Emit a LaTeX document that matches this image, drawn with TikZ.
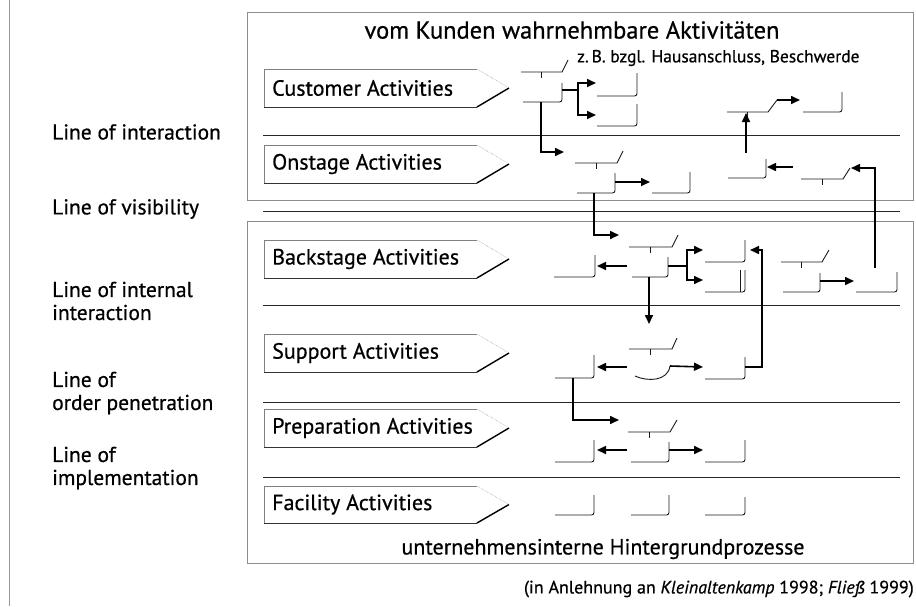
\documentclass[tikz,border=0pt]{standalone}
\usepackage{fontspec}
\setmainfont{PT Sans}[FakeBold=0.6]
\usetikzlibrary{arrows.meta}
\newcommand\lanebox[4]{% name, top, bottom, text
  \pgfmathsetmacro\lanemid{(#2+#3)/2}
  \draw[black!50,line width=0.6pt] (477,#2) -- (264,#2) -- (264,#3);
  \draw[black!80,line width=0.8pt] (264,#3) -- (477,#3);
  \draw[black,line width=1.4pt] (477,#3) -- (509,\lanemid);
  \draw[black!45,line width=0.5pt,densely dotted] (477,#2) -- (509,\lanemid);
  \node[lanetext] (#1) at (272,\lanemid) {#4};
}
\newcommand\pbox[5]{% name, x1, x2, ytop, ybot
  \draw[boxline] (#2,#5) -- (#3,#5) -- (#3,#4);
  \coordinate (#1) at (#3,#5);
}
\newcommand\pdec[6]{% name, x1, x2, yb, x3, yt
  \draw[boxline,rounded corners=0pt] (#2,#4) -- (#3,#4) -- (#5,#6);
  \draw[boxline] ({(#2+#3)/2},#4) -- ++(0,6);
  \coordinate (#1) at (#3,#4);
}
\begin{document}
\begin{tikzpicture}[x=1pt,y=-1pt,
  frame/.style={draw=black!45,line width=0.6pt},
  laneline/.style={draw=black!85,line width=0.9pt},
  boxline/.style={draw=black!90,line width=0.9pt,rounded corners=2.5pt},
  conn/.style={draw=black,line width=1.6pt,-{Triangle[length=9pt,width=8pt]}},
  plain/.style={draw=black,line width=1.6pt},
  lanetext/.style={anchor=west,font=\fontsize{22}{24}\selectfont,inner sep=0pt},
  sidetext/.style={anchor=west,font=\fontsize{21.5}{23}\selectfont,inner sep=0pt,align=left},
]
\useasboundingbox (0,0) rectangle (916,606);
% frames
\draw[black!40,line width=0.5pt] (9,0) -- (9,606);
\draw[frame] (247,12) rectangle (913,200);
\draw[frame] (247,221) rectangle (913,563);
% lane lines
\foreach \yy in {135,211,305,402,477} \draw[laneline] (263,\yy) -- (900,\yy);
% titles
\node[font=\fontsize{24.5}{28}\selectfont,inner sep=0pt] (title) at (572,30) {vom Kunden wahrnehmbare Aktivitäten};
\node[anchor=west,font=\fontsize{17.5}{19}\selectfont,inner sep=0pt] (example) at (577,58) {z.\,B. bzgl. Hausanschluss, Beschwerde};
\node[font=\fontsize{22}{26}\selectfont,inner sep=0pt] (bottomtitle) at (603,549) {unternehmensinterne Hintergrundprozesse};
\node[anchor=east,font=\fontsize{18}{20}\selectfont,inner sep=0pt] (cite) at (914,589) {(in Anlehnung an \textit{Kleinaltenkamp} 1998; \textit{Fließ} 1999)};
% side labels
\node[sidetext] (l1) at (52,132) {Line of interaction};
\node[sidetext] (l2) at (52,209) {Line of visibility};
\node[sidetext] (l3) at (52,301) {Line of internal\\interaction};
\node[sidetext] (l4) at (52,393) {Line of\\order penetration};
\node[sidetext] (l5) at (52,468) {Line of\\implementation};
% lane labels
\lanebox{cust}{69}{107}{Customer Activities}
\lanebox{onst}{145}{183}{Onstage Activities}
\lanebox{back}{240}{278}{Backstage Activities}
\lanebox{supp}{334}{372}{Support Activities}
\lanebox{prep}{409}{447}{Preparation Activities}
\lanebox{faci}{486}{523}{Facility Activities}
% customer lane
\pdec{d1}{521}{562}{72}{568}{60}
\pbox{b1}{523}{562}{83}{102}
\pbox{b2}{597}{637}{73}{96}
\pbox{b3}{597}{637}{104}{126}
\pdec{d2}{727}{768}{112}{777}{100}
\pbox{b4}{803}{842}{92}{112}
% onstage lane
\pdec{d4}{575}{617}{163}{623}{151}
\pbox{b6}{577}{615}{173}{193}
\pbox{b7}{652}{690}{172}{193}
\pbox{b5}{728}{766}{159}{178}
\pdec{d3}{801}{843}{179}{850}{168}
% backstage lane
\pdec{d5}{629}{672}{247}{678}{235}
\pbox{b8}{632}{668}{257}{277}
\pbox{b9}{554}{595}{255}{277}
\pbox{b10}{705}{745}{240}{262}
\pbox{b11}{705}{745}{270}{292}
\draw[boxline] (740,270) -- (740,292);
\pdec{d6}{781}{822}{262}{829}{250}
\pbox{b12}{783}{820}{273}{292}
\pbox{b13}{856}{897}{272}{292}
% support lane
\pdec{d7}{629}{672}{349}{677}{338}
\draw[boxline] (635,376) .. controls (648,382) and (668,381) .. (670,366);
\coordinate (s2) at (670,366);
\pbox{s1}{555}{594}{355}{378}
\pbox{s3}{705}{745}{357}{379}
% preparation lane
\pdec{d8}{628}{670}{432}{677}{420}
\pbox{p1}{555}{594}{440}{462}
\pbox{p2}{631}{669}{442}{462}
\pbox{p3}{705}{745}{440}{462}
% facility lane
\pbox{f1}{555}{594}{495}{515}
\pbox{f2}{631}{669}{495}{515}
\pbox{f3}{705}{745}{497}{515}
% connector points
\coordinate (b1out) at (562,90);
\coordinate (fork1) at (578,90);
\coordinate (b2in) at (596,83);
\coordinate (b3in) at (596,115);
\coordinate (b1down) at (541,102);
\coordinate (d4in) at (564,152);
\coordinate (b5top) at (746,153);
\coordinate (d2bot) at (746,113);
\coordinate (d2top) at (777,100);
\coordinate (b4in) at (800,100);
\coordinate (b6out) at (615,182);
\coordinate (b7in) at (650,182);
\coordinate (b6down) at (594,193);
\coordinate (d5in) at (619,235);
\coordinate (d3out) at (793,167);
\coordinate (b5in) at (767,167);
\coordinate (b13top) at (875,268);
\coordinate (d3in) at (851,168);
\coordinate (b8left) at (627,266);
\coordinate (b9in) at (597,266);
\coordinate (b8out) at (668,266);
\coordinate (fork2) at (687,266);
\coordinate (b10in) at (703,250);
\coordinate (b11in) at (703,280);
\coordinate (b8down) at (649,277);
\coordinate (d7in) at (649,324);
\coordinate (b12out) at (820,281);
\coordinate (b13in) at (854,281);
\coordinate (s3out) at (745,367);
\coordinate (b10right) at (750,250);
\coordinate (s2left) at (627,367);
\coordinate (s1in) at (597,367);
\coordinate (s3in) at (703,367);
\coordinate (s1down) at (573,378);
\coordinate (d8in) at (619,420);
\coordinate (p2left) at (627,450);
\coordinate (p1in) at (597,450);
\coordinate (p2out) at (669,450);
\coordinate (p3in) at (703,450);
% connectors
\draw[plain] (b1out) -- (fork1);
\draw[conn] (fork1) |- (b2in);
\draw[conn] (fork1) |- (b3in);
\draw[conn] (b1down) |- (d4in);
\draw[conn] (b5top) -- (d2bot);
\draw[conn] (d2top) -- (b4in);
\draw[conn] (b6out) -- (b7in);
\draw[conn] (b6down) |- (d5in);
\draw[conn] (d3out) -- (b5in);
\draw[conn] (b13top) |- (d3in);
\draw[conn] (b8left) -- (b9in);
\draw[plain] (b8out) -- (fork2);
\draw[conn] (fork2) |- (b10in);
\draw[conn] (fork2) |- (b11in);
\draw[conn] (b8down) -- (d7in);
\draw[conn] (b12out) -- (b13in);
\draw[conn] (s3out) -| (762,250) -- (b10right);
\draw[conn] (s2left) -- (s1in);
\draw[conn] (s2) -- (s3in);
\draw[conn] (s1down) |- (d8in);
\draw[conn] (p2left) -- (p1in);
\draw[conn] (p2out) -- (p3in);
\end{tikzpicture}
\end{document}
